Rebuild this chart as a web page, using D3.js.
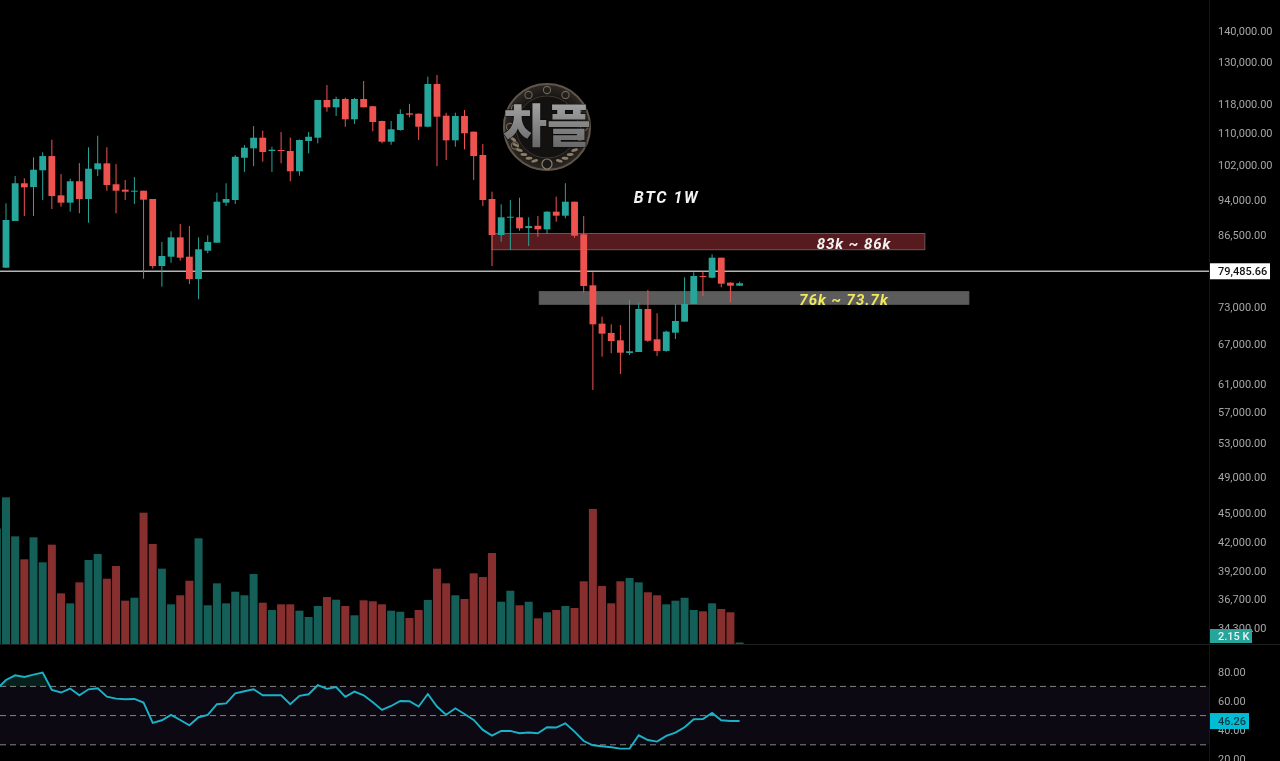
<!DOCTYPE html>
<html>
<head>
<meta charset="utf-8">
<script src="https://cdn.jsdelivr.net/npm/d3@7/dist/d3.min.js"></script>
<style>
html,body{margin:0;padding:0;background:#000;overflow:hidden}
svg{display:block;filter:blur(0.45px)}
</style>
</head>
<body>
<svg id="chart" width="1280" height="761"></svg>
<script>
const opens=[80160,89480,97800,96940,100830,104270,95060,93430,98260,94240,
101060,102500,97570,96330,95880,96100,94240,80480,82260,86100,
82260,78050,83430,85020,93430,94020,103860,106190,108880,105520,
105770,105520,100600,108040,108880,119000,116960,119280,113700,119280,
117260,113250,107860,110880,115320,115210,111740,123570,114680,108210,
114590,110440,104530,94240,86570,90180,90260,88010,88480,87740,
91470,90610,93640,86710,76900,70260,68740,67550,65570,65720,
72730,67710,65880,68780,70590,73590,78600,78290,82070,77380,76830];
const closes=[89690,97800,96870,100970,104270,94900,93430,98260,94240,101210,
102500,97400,96100,95880,96100,94090,80480,82400,86100,82070,
78050,83710,85160,93640,94240,104100,106340,108880,105270,105840,
105520,100600,108290,109130,119000,116960,119280,113700,119280,116960,
112990,107860,111060,115120,114950,111740,123570,114400,108210,114590,
110020,104270,94020,86570,90260,90390,87950,88420,87740,91470,
90610,93640,86430,76770,70150,68620,67440,65610,65830,72730,
67490,65880,68950,70700,73590,78600,78420,82070,77190,76830,77270];
const highs=[93290,99480,98950,103950,105200,108370,99950,98860,102570,106440,
109400,106440,102330,98560,99250,96100,94240,85160,87330,88850,
88420,86100,86510,95650,97800,104530,107030,111920,110700,106590,
110360,108920,108420,110360,119000,123270,119930,119650,119560,124450,
117350,113330,113250,116420,117910,115320,125700,126210,115480,115480,
116230,110440,107280,95880,93070,94020,94530,90260,90530,91580,
94750,97800,93640,90530,79300,71420,70150,70040,74290,73820,
76060,71990,69110,73590,78360,79300,79410,82730,82070,77450,77560];
const lows=[80100,89480,90530,90530,94020,92040,92540,91470,91130,89120,
99480,96100,91130,94020,93140,78110,80000,76650,81110,81500,
77140,74410,82920,85020,92700,93140,100430,101840,102890,100430,
102500,98260,99550,104950,107440,115770,114590,111740,112460,116960,
110540,107440,107090,110700,114240,108290,111590,101840,103300,106590,
105940,98560,92700,80480,85220,83570,87460,84360,86230,86780,
89330,90050,86020,75580,60100,65000,65520,62410,65250,65720,
67280,65110,65770,67760,70590,73590,74990,78180,76540,73890,76830];
const volumes=[209.5,153.8,121,152.4,116.7,141.9,72.4,58.1,88.1,120,
128.6,93.3,111.4,61.9,66.1,187.6,142.9,107.6,56.7,69.6,
90.4,151,55.3,86.7,58.1,74.7,69.6,100,59,48.6,
56.7,56.7,47.6,38.6,54.3,67.1,63.3,54.3,41,62.4,
61,56.7,47.6,46.1,37.1,48.6,62.9,107.6,86.7,69.6,
64.3,101,95.7,130,60.4,76.1,55.3,60.4,36.7,45.3,
48.6,54.3,51.4,89.6,192.9,82.9,58.1,89.6,94.3,88.1,
73.9,69.6,56.7,61.9,66.1,48.6,46.7,58.1,50,45.3,2.15];
const rsiBefore=68.3;
const rsi=[74.4,77.6,76.5,78.1,79.5,67.6,65.8,68.5,63.9,68,
68.7,63,61.6,61.2,61.4,58.9,45,46.8,50.5,47,
43.4,48.9,50.5,57.8,58.4,65.3,66.7,68,63.9,63.9,
63.9,57.8,63.5,64.6,70.8,68.3,69.6,62.8,66.4,63.9,
59.1,53.9,56.6,60,59.8,56.2,64.8,56.2,50.5,55,
51.1,47,40.2,36.3,39.5,39.5,37.9,38.4,37.9,42,
41.8,44.7,39,32.6,29.7,29,28.3,27.4,27.4,36.5,
33.3,32.2,36.1,38.4,42,47.5,47.7,51.8,46.8,46.3,46.26];
const priceTicks=[140000,130000,118000,110000,102000,94000,86500,73000,67000,61000,57000,53000,49000,45000,42000,39200,36700,34300];
const rsiTicks=[80,60,40,20];
const rsiLevels=[70,50,30];
const lastPrice=79485.66;
const zones=[
 {hi:86880,lo:83630,from:53,to:100.2,fill:"#571a1f",stroke:"#6a5658",label:"83k ~ 86k",labelColor:"#f2f2f2"},
 {hi:75760,lo:73540,from:58.15,to:105,fill:"#5c5c5c",stroke:"#5c5c5c",label:"76k ~ 73.7k",labelColor:"#f0e95e"}
];
const chartTitle="BTC 1W";
const logoText="차플";

const GREEN="#26a69a",RED="#ef5350",VGREEN="#145f57",VRED="#872f2f";
const PANE_R=1209.5;
const svg=d3.select("#chart");
const defs=svg.append("defs");
defs.append("clipPath").attr("id","pane").append("rect").attr("width",PANE_R).attr("height",761);

const x=d3.scaleLinear().domain([0,80]).range([6,739.6]);
const y=d3.scaleLog().domain([140000,34300]).range([31,628]);
const yVol=d3.scaleLinear().domain([0,210]).range([644,497]);
const yRsi=d3.scaleLinear().domain([70,30]).range([686.4,744.8]);

svg.append("rect").attr("width",1280).attr("height",761).attr("fill","#000");
const plot=svg.append("g").attr("clip-path","url(#pane)");

// RSI band
plot.append("rect").attr("x",0).attr("width",PANE_R).attr("y",yRsi(70)).attr("height",yRsi(30)-yRsi(70)).attr("fill","#0c0913");

// Volume
const idx=d3.range(opens.length);
const isUp=i=>closes[i]>=opens[i];
plot.append("rect").attr("x",x(-1)-4).attr("width",8).attr("y",yVol(165)).attr("height",yVol(0)-yVol(165)).attr("fill",VGREEN);
plot.selectAll("rect.vol").data(idx).join("rect").attr("class","vol")
 .attr("x",i=>x(i)-4).attr("width",8)
 .attr("y",i=>yVol(volumes[i])).attr("height",i=>yVol(0)-yVol(volumes[i]))
 .attr("fill",i=>isUp(i)?VGREEN:VRED);

// Zones
plot.selectAll("rect.zone").data(zones).join("rect").attr("class","zone")
 .attr("x",d=>x(d.from)).attr("width",d=>x(d.to)-x(d.from))
 .attr("y",d=>y(d.hi)).attr("height",d=>y(d.lo)-y(d.hi))
 .attr("fill",d=>d.fill).attr("stroke",d=>d.stroke).attr("stroke-width",1);

// last price line
plot.append("line").attr("x1",0).attr("x2",PANE_R).attr("y1",y(lastPrice)).attr("y2",y(lastPrice))
 .attr("stroke","#b4b4b4").attr("stroke-width",1.7);

// Candles
plot.selectAll("line.wick").data(idx).join("line").attr("class","wick")
 .attr("x1",i=>x(i)).attr("x2",i=>x(i))
 .attr("y1",i=>y(highs[i])).attr("y2",i=>y(lows[i]))
 .attr("stroke",i=>isUp(i)?GREEN:RED).attr("stroke-width",1);
plot.selectAll("rect.body").data(idx).join("rect").attr("class","body")
 .attr("x",i=>x(i)-3.4).attr("width",6.8)
 .attr("y",i=>y(Math.max(opens[i],closes[i])))
 .attr("height",i=>Math.max(1,Math.abs(y(opens[i])-y(closes[i]))))
 .attr("fill",i=>isUp(i)?GREEN:RED);

// Zone labels
const labelPos=[{x:854,y:248.5},{x:844,y:304.5}];
svg.selectAll("text.zl").data(zones).join("text").attr("class","zl")
 .attr("x",(d,i)=>labelPos[i].x).attr("y",(d,i)=>labelPos[i].y)
 .attr("text-anchor","middle").attr("font-family","Roboto").attr("font-style","italic").attr("font-weight",700)
 .attr("font-size",15).attr("letter-spacing",1).attr("fill",d=>d.labelColor).text(d=>d.label);
svg.append("text").attr("x",666.5).attr("y",203).attr("text-anchor","middle")
 .attr("font-family","Roboto").attr("font-style","italic").attr("font-weight",700)
 .attr("font-size",16).attr("letter-spacing",1.6).attr("fill","#f2f2f2").text(chartTitle);

// RSI
const rsiPts=[[-1,rsiBefore],...rsi.map((v,i)=>[i,v])];
plot.append("path").datum(rsiPts)
 .attr("d",d3.area().x(d=>x(d[0])).y0(yRsi(70)).y1(d=>yRsi(Math.max(70,d[1]))))
 .attr("fill","#07201b");
plot.selectAll("line.lvl").data(rsiLevels).join("line").attr("class","lvl")
 .attr("x1",0).attr("x2",PANE_R).attr("y1",d=>yRsi(d)).attr("y2",d=>yRsi(d))
 .attr("stroke","#858585").attr("stroke-width",1).attr("stroke-dasharray","6 4");
plot.append("path").datum(rsiPts)
 .attr("d",d3.line().x(d=>x(d[0])).y(d=>yRsi(d[1])))
 .attr("fill","none").attr("stroke","#1ab2c6").attr("stroke-width",1.9);

// Logo (decorative)
const logo=svg.append("g").attr("transform","translate(547,127)");
const lg=defs.append("radialGradient").attr("id","lg");
lg.append("stop").attr("offset","0%").attr("stop-color","#242220");
lg.append("stop").attr("offset","70%").attr("stop-color","#181614");
lg.append("stop").attr("offset","100%").attr("stop-color","#2e2924");
logo.append("circle").attr("r",44).attr("fill","url(#lg)");
logo.append("circle").attr("r",43).attr("fill","none").attr("stroke","#5f554a").attr("stroke-width",2);
logo.append("circle").attr("r",31).attr("fill","#131211").attr("stroke","#3c3731").attr("stroke-width",1);
const ornamentAngles=[-150,-120,-90,-60,-30,0,180,150];
logo.selectAll("circle.o").data(ornamentAngles).join("circle").attr("class","o")
 .attr("cx",d=>37*Math.cos(d*Math.PI/180)).attr("cy",d=>37*Math.sin(d*Math.PI/180))
 .attr("r",3.6).attr("fill","none").attr("stroke","#6f6558").attr("stroke-width",1.1);
logo.append("circle").attr("cy",37).attr("r",5).attr("fill","#1a1816").attr("stroke","#8a7f6e").attr("stroke-width",1.2);
const leafAngles=[20,30,40,50,60,70,110,120,130,140,150,160];
logo.selectAll("ellipse.leaf").data(leafAngles).join("ellipse").attr("class","leaf")
 .attr("rx",3.4).attr("ry",1.5).attr("fill","#8c7d66")
 .attr("transform",d=>`rotate(${d+(d<90?-55:55)} ${36*Math.cos(d*Math.PI/180)} ${36*Math.sin(d*Math.PI/180)}) translate(${36*Math.cos(d*Math.PI/180)} ${36*Math.sin(d*Math.PI/180)})`);
const tg=defs.append("linearGradient").attr("id","tg").attr("x1",0).attr("y1",0).attr("x2",0).attr("y2",1);
tg.append("stop").attr("offset","0%").attr("stop-color","#b4b4b4");
tg.append("stop").attr("offset","100%").attr("stop-color","#5e5e5e");
logo.append("text").attr("text-anchor","middle").attr("y",15).attr("font-family","Noto Sans CJK KR")
 .attr("font-weight",900).attr("font-size",46).attr("textLength",88).attr("lengthAdjust","spacingAndGlyphs")
 .attr("fill","url(#tg)").attr("stroke","#0c0c0c").attr("stroke-width",1.2).attr("paint-order","stroke").text(logoText);

// Separators
svg.append("line").attr("x1",PANE_R).attr("x2",PANE_R).attr("y1",0).attr("y2",761).attr("stroke","#161616");
svg.append("line").attr("x1",0).attr("x2",1280).attr("y1",644.5).attr("y2",644.5).attr("stroke","#1e1e1e");

// Axes
const font="Roboto";
const axP=svg.append("g").attr("transform","translate(1210,0)")
 .call(d3.axisRight(y).tickValues(priceTicks).tickSize(0).tickPadding(8).tickFormat(d3.format(",.2f")));
const axR=svg.append("g").attr("transform","translate(1210,0)")
 .call(d3.axisRight(yRsi).tickValues(rsiTicks).tickSize(0).tickPadding(8).tickFormat(d3.format(".2f")));
[axP,axR].forEach(a=>{a.select(".domain").remove();
 a.selectAll("text").attr("font-family",font).attr("font-size",11).attr("fill","#a6a6a6");});

// Tags
function tag(tx,ty,w,h,bg,fg,text){
 svg.append("rect").attr("x",tx).attr("y",ty).attr("width",w).attr("height",h).attr("fill",bg);
 svg.append("text").attr("x",tx+8).attr("y",ty+h/2).attr("dy","0.36em").attr("font-family",font).attr("font-weight",500).attr("font-size",11).attr("fill",fg).text(text);
}
tag(1210,y(lastPrice)-8,60,16,"#fff","#111",d3.format(",.2f")(lastPrice));
tag(1210,629,42,14,"#26a69a","#e6f4f2",d3.format(".2f")(volumes[80])+" K");
tag(1210,yRsi(rsi[80])-8,39,16,"#00bcd4","#0f3a44",d3.format(".2f")(rsi[80]));
</script>
</body>
</html>
